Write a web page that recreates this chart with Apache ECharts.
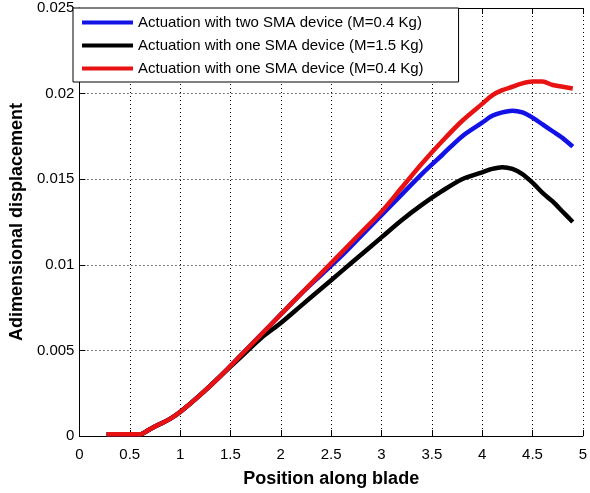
<!DOCTYPE html>
<html>
<head>
<meta charset="utf-8">
<script src="https://cdn.jsdelivr.net/npm/echarts@6/dist/echarts.min.js"></script>
<style>
  html, body { margin: 0; padding: 0; background: #fff; }
  #chart { width: 590px; height: 493px; }
</style>
</head>
<body>
<div id="chart"></div>
<script>
// position along blade (x) sampled points
const positions = [0.27, 0.4, 0.5, 0.6, 0.7, 0.8, 0.9, 1.0, 1.2, 1.4, 1.6, 1.8, 2.0, 2.2, 2.4, 2.6,
  2.8, 3.0, 3.2, 3.4, 3.6, 3.8, 4.0, 4.1, 4.2, 4.3, 4.4, 4.5, 4.6, 4.7, 4.8, 4.9]

// two SMA device, M=0.4 Kg
const twoSma04 = [0.0001, 0.0001, 0.0001, 0.0001, 0.0004, 0.0007, 0.0010, 0.0014, 0.0024, 0.0035, 0.0047, 0.0059,
  0.0071, 0.0083, 0.0094, 0.0105, 0.0117, 0.0129, 0.0141, 0.0153, 0.0164, 0.0175, 0.0183, 0.0187,
  0.0189, 0.0190, 0.0189, 0.0186, 0.0182, 0.0178, 0.0174, 0.0169]

// one SMA device, M=1.5 Kg
const oneSma15 = [0.0001, 0.0001, 0.0001, 0.0001, 0.0004, 0.0007, 0.0010, 0.0014, 0.0024, 0.0035, 0.0046, 0.0057,
  0.0066, 0.0076, 0.0086, 0.0096, 0.0106, 0.0116, 0.0126, 0.0135, 0.0143, 0.0150, 0.0154, 0.0156,
  0.0157, 0.0156, 0.0153, 0.0148, 0.0142, 0.0137, 0.0131, 0.0125]

// one SMA device, M=0.4 Kg
const oneSma04 = [0.0001, 0.0001, 0.0001, 0.0001, 0.0004, 0.0007, 0.0010, 0.0014, 0.0024, 0.0035, 0.0047, 0.0059,
  0.0071, 0.0083, 0.0095, 0.0107, 0.0119, 0.0131, 0.0145, 0.0159, 0.0172, 0.0184, 0.0194, 0.0199,
  0.0202, 0.0204, 0.0206, 0.0207, 0.0207, 0.0205, 0.0204, 0.0203]

const seriesNames = [
  'Actuation with two SMA device (M=0.4 Kg)',
  'Actuation with one SMA device (M=1.5 Kg)',
  'Actuation with one SMA device (M=0.4 Kg)'
]

const font = "'Liberation Sans', Arial, sans-serif"

const pairs = (ys) => positions.map((x, i) => [x, ys[i]])

const myChart = echarts.init(document.getElementById('chart'))

// matlab style dotted grid
const dotted = { color: '#000', width: 1, type: [1, 3] }

const chartOption = {
  animation: false,
  grid: { left: 73, right: 1, top: 8, bottom: 53, show: false },
  legend: {
    orient: 'vertical',
    left: 73,
    top: 8,
    icon: 'rect',
    itemWidth: 51,
    itemHeight: 4,
    itemGap: 8,
    padding: [7, 35, 6, 9],
    backgroundColor: '#fff',
    borderColor: '#000',
    borderWidth: 1,
    textStyle: { color: '#000', fontSize: 15, fontFamily: font },
    data: seriesNames
  },
  xAxis: [
    {
      type: 'value',
      min: 0,
      max: 5,
      interval: 0.5,
      name: 'Position along blade',
      nameLocation: 'middle',
      nameGap: 34,
      nameTextStyle: { color: '#000', fontSize: 18, fontWeight: 'bold', fontFamily: font },
      axisLine: { show: true, onZero: false, lineStyle: { color: '#000', width: 1 } },
      axisTick: { show: true, inside: true, length: 6, lineStyle: { color: '#000' } },
      axisLabel: { color: '#000', fontSize: 15, fontFamily: font, margin: 11 },
      splitLine: { show: true, lineStyle: dotted }
    },
    {
      type: 'value',
      position: 'top',
      min: 0,
      max: 5,
      interval: 0.5,
      axisLine: { show: true, onZero: false, lineStyle: { color: '#000', width: 1 } },
      axisTick: { show: true, inside: true, length: 6, lineStyle: { color: '#000' } },
      axisLabel: { show: false },
      splitLine: { show: false }
    }
  ],
  yAxis: {
    type: 'value',
    min: 0,
    max: 0.025,
    interval: 0.005,
    name: 'Adimensional displacement',
    nameLocation: 'middle',
    nameGap: 52,
    nameTextStyle: { color: '#000', fontSize: 18, fontWeight: 'bold', fontFamily: font },
    axisLine: { show: true, onZero: false, lineStyle: { color: '#000', width: 1 } },
    axisTick: { show: true, inside: true, length: 6, lineStyle: { color: '#000' } },
    axisLabel: {
      color: '#000',
      fontSize: 15,
      fontFamily: font,
      margin: 5,
      formatter: (v) => String(+v.toFixed(3))
    },
    splitLine: { show: true, lineStyle: dotted }
  },
  series: [
    {
      name: seriesNames[0],
      type: 'line',
      color: '#1212e6',
      showSymbol: false,
      smooth: 0.3,
      lineStyle: { width: 4.5 },
      data: pairs(twoSma04)
    },
    {
      name: seriesNames[1],
      type: 'line',
      color: '#000000',
      showSymbol: false,
      smooth: 0.3,
      lineStyle: { width: 4.5 },
      data: pairs(oneSma15)
    },
    {
      name: seriesNames[2],
      type: 'line',
      color: '#e81212',
      showSymbol: false,
      smooth: 0.3,
      lineStyle: { width: 4.5 },
      data: pairs(oneSma04)
    }
  ]
}

myChart.setOption(chartOption)
window.addEventListener('resize', myChart.resize)
</script>
</body>
</html>
